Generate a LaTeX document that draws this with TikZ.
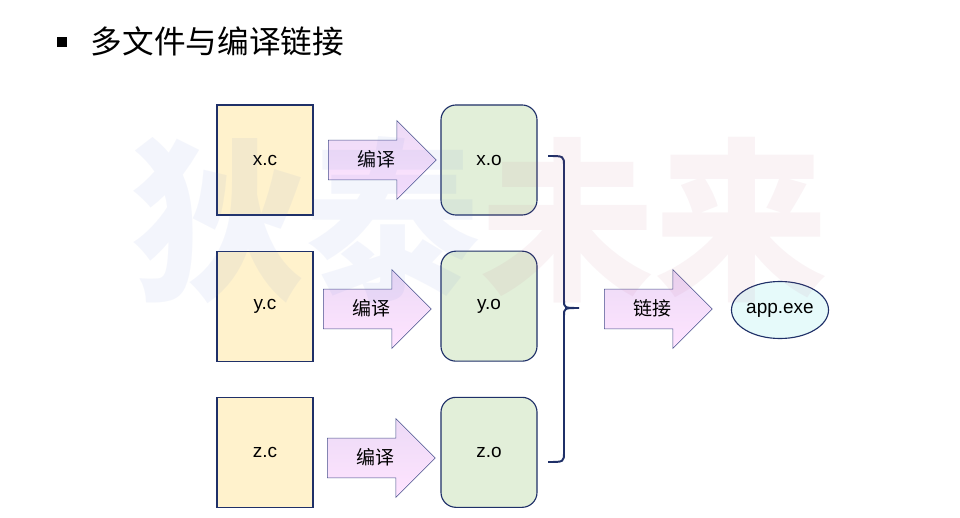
\documentclass[tikz,border=0pt]{standalone}
\usepackage{fontspec}
\setmainfont{Liberation Sans}
\newfontfamily\cjk{Noto Sans CJK SC}
\usetikzlibrary{positioning,shapes.geometric,shapes.arrows}
\definecolor{srcyellow}{RGB}{255,242,204}
\definecolor{objgreen}{RGB}{226,239,217}
\definecolor{execyan}{RGB}{230,250,250}
\definecolor{navyline}{RGB}{31,48,104}
\definecolor{arrowline}{RGB}{70,80,140}
\definecolor{arrowtop}{RGB}{236,218,246}
\definecolor{arrowbot}{RGB}{255,228,255}
\definecolor{markblue}{RGB}{95,125,215}
\definecolor{markpink}{RGB}{185,85,125}
\tikzset{
  srcbox/.style={
    rectangle,
    draw=navyline,
    thick,
    fill=srcyellow,
    minimum width=2.4cm,
    minimum height=2.75cm,
    inner sep=0pt,
    font=\fontsize{13.5}{15}\selectfont
  },
  objbox/.style={
    srcbox,
    rounded corners=0.375cm,
    fill=objgreen
  },
  stagearrow/.style={
    single arrow,
    single arrow head extend=0.49cm,
    single arrow tip angle=90,
    draw=arrowline,
    top color=arrowtop,
    bottom color=arrowbot,
    minimum height=2.7cm,
    text height=0.36cm,
    text depth=0.02cm,
    inner xsep=4pt,
    inner ysep=0.3cm,
    font=\cjk\fontsize{13.5}{15}\selectfont
  },
  exeellipse/.style={
    ellipse,
    draw=navyline,
    thick,
    fill=execyan,
    minimum width=2.425cm,
    minimum height=1.425cm,
    inner sep=0pt,
    font=\fontsize{13.5}{15}\selectfont
  },
  bracket/.style={
    draw=navyline,
    line width=1.4pt
  }
}

\begin{document}
\begin{tikzpicture}[x=0.025cm, y=0.025cm, node distance=0.875cm and 0.375cm]
\useasboundingbox[fill=white] (0,0) rectangle (960,-518);

% title
\node[fill=black, minimum size=0.25cm, inner sep=0pt] (bullet) at (62,-42) {};
\node[anchor=west, font=\cjk\fontsize{22.5}{26}\selectfont] (title) at (86,-41) {多文件与编译链接};

% source files
\node[srcbox] (xc) at (265,-160) {x.c};
\node[srcbox, below=of xc] (yc) {y.c};
\node[srcbox, below=of yc] (zc) {z.c};

% compile steps
\node[stagearrow, anchor=west] (cx) at (328,-160) {\hspace*{0.2cm}编译};
\node[stagearrow, anchor=west] (cy) at (323,-309) {\hspace*{0.2cm}编译};
\node[stagearrow, anchor=west] (cz) at (327,-458) {\hspace*{0.2cm}编译};

% object files
\node[objbox] (xo) at (489,-160) {x.o};
\node[objbox, below=of xo] (yo) {y.o};
\node[objbox, below=of yo] (zo) {z.o};

% brace
\draw[bracket] (548,-156) .. controls (564,-156) .. (564,-166) -- (564,-300)
  .. controls (564,-308) .. (579,-308) .. controls (564,-308) .. (564,-316)
  -- (564,-452) .. controls (564,-462) .. (548,-462);

% link step
\node[stagearrow, anchor=west] (lk) at (604,-309) {\hspace*{0.2cm}链接};
\node[exeellipse] (app) at (780,-310) {app.exe};

% watermark
\node[font=\cjk\bfseries\fontsize{124}{124}\selectfont, text opacity=0.07] (mark) at (480,-220)
  {\textcolor{markblue}{狄泰}\textcolor{markpink}{未来}};
\end{tikzpicture}
\end{document}
